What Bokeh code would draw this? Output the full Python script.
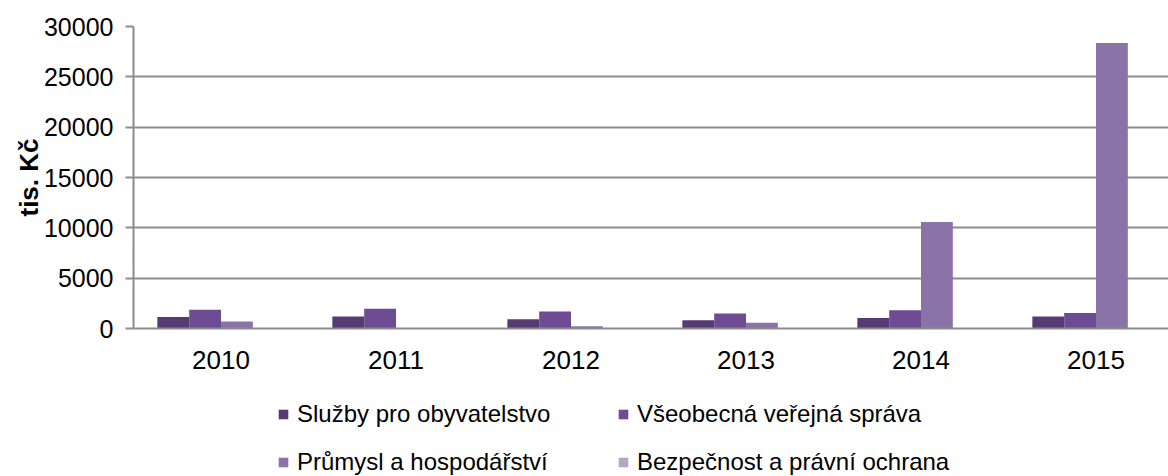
from bokeh.plotting import figure
from bokeh.models import (ColumnDataSource, Legend, LegendItem, FixedTicker,
                          SingleIntervalTicker, Range1d)
from bokeh.layouts import column
from bokeh.transform import dodge
from bokeh.embed import file_html
from bokeh.resources import INLINE

years = ["2010", "2011", "2012", "2013", "2014", "2015"]
sluzby = [1130, 1200, 930, 830, 1050, 1190]
verejna_sprava = [1860, 1960, 1700, 1490, 1820, 1550]
prumysl = [700, 0, 230, 570, 10580, 28370]
bezpecnost = [0, 0, 0, 0, 0, 0]
series_names = ["Služby pro obyvatelstvo", "Všeobecná veřejná správa",
                "Průmysl a hospodářství", "Bezpečnost a právní ochrana"]
colors = ["#553b72", "#6d4c94", "#8a73a6", "#b2a8c0"]

# category slots: each year occupies one unit on the x scale, centred at i + 0.5
x_center = [i + 0.5 for i in range(len(years))]
source = ColumnDataSource(dict(x=x_center, year=years, s1=sluzby, s2=verejna_sprava,
                               s3=prumysl, s4=bezpecnost))

FONT = "Liberation Sans"
W, H_CHART, H_LEG = 1168, 380, 96
LEFT = 133
CAT_PX = 175  # pixel width of one category slot (last slot is cut by the right edge)

p = figure(x_range=Range1d(0, (W - LEFT) / CAT_PX), y_range=(0, 30000),
           width=W, height=H_CHART, output_backend="svg", toolbar_location=None,
           min_border_left=LEFT, min_border_right=0, min_border_top=26,
           min_border_bottom=52)
p.outline_line_color = None

w = 1 / 5.5
offsets = [-1.5 * w, -0.5 * w, 0.5 * w, 1.5 * w]
keys = ["s1", "s2", "s3", "s4"]
for key, off, col in zip(keys, offsets, colors):
    p.vbar(x=dodge("x", off), top=key, width=w, source=source,
           fill_color=col, line_color=None)

p.yaxis.ticker = SingleIntervalTicker(interval=5000)
p.ygrid.grid_line_color = "#8c8c8c"
p.ygrid.grid_line_width = 2
p.xgrid.grid_line_color = None

p.yaxis.axis_line_color = "#8c8c8c"
p.yaxis.axis_line_width = 2
p.yaxis.major_tick_line_color = "#8c8c8c"
p.yaxis.major_tick_line_width = 2
p.yaxis.major_tick_out = 8
p.yaxis.major_tick_in = 0
p.yaxis.minor_tick_line_color = None
p.yaxis.major_label_standoff = 12
p.yaxis.major_label_text_font = FONT
p.yaxis.major_label_text_font_size = "25px"
p.yaxis.major_label_text_color = "#000000"
p.yaxis.axis_label = "tis. Kč"
p.yaxis.axis_label_text_font = FONT
p.yaxis.axis_label_text_font_style = "bold"
p.yaxis.axis_label_text_font_size = "26px"
p.yaxis.axis_label_text_color = "#000000"
p.yaxis.axis_label_standoff = -3

p.xaxis.ticker = FixedTicker(ticks=x_center)
p.xaxis.major_label_overrides = {xc: y for xc, y in zip(x_center, years)}
p.xaxis.axis_line_color = "#8c8c8c"
p.xaxis.axis_line_width = 2
p.xaxis.major_tick_line_color = None
p.xaxis.minor_tick_line_color = None
p.xaxis.major_label_standoff = 16
p.xaxis.major_label_text_font = FONT
p.xaxis.major_label_text_font_size = "26px"
p.xaxis.major_label_text_color = "#000000"

# legend-only figure below the chart
lg = figure(x_range=Range1d(0, 1), y_range=Range1d(0, 1), width=W, height=H_LEG,
            output_backend="svg", toolbar_location=None, min_border=0,
            min_border_left=LEFT, x_axis_location=None, y_axis_location=None)
lg.outline_line_color = None
lg.grid.grid_line_color = None
lg_renderers = {}
for key, col in zip(keys, colors):
    lg_renderers[key] = lg.vbar(x="x", top=key, width=w, source=source,
                                fill_color=col, line_color=None, visible=False)

# ncols=2 fills column by column: order items so rows read s1 s2 / s3 s4
order = [0, 2, 1, 3]
items = [LegendItem(label=series_names[i], renderers=[lg_renderers[keys[i]]]) for i in order]
legend = Legend(items=items, ncols=2, location=(144, 0),
                glyph_width=12, glyph_height=12, label_standoff=8, label_height=22,
                label_width=300, spacing=20, padding=0, margin=0,
                border_line_color=None, background_fill_alpha=0,
                label_text_font=FONT, label_text_font_size="24px",
                label_text_color="#000000")
lg.add_layout(legend, "center")

layout = column(p, lg, spacing=0)
open("out.html", "w").write(file_html(layout, INLINE))
